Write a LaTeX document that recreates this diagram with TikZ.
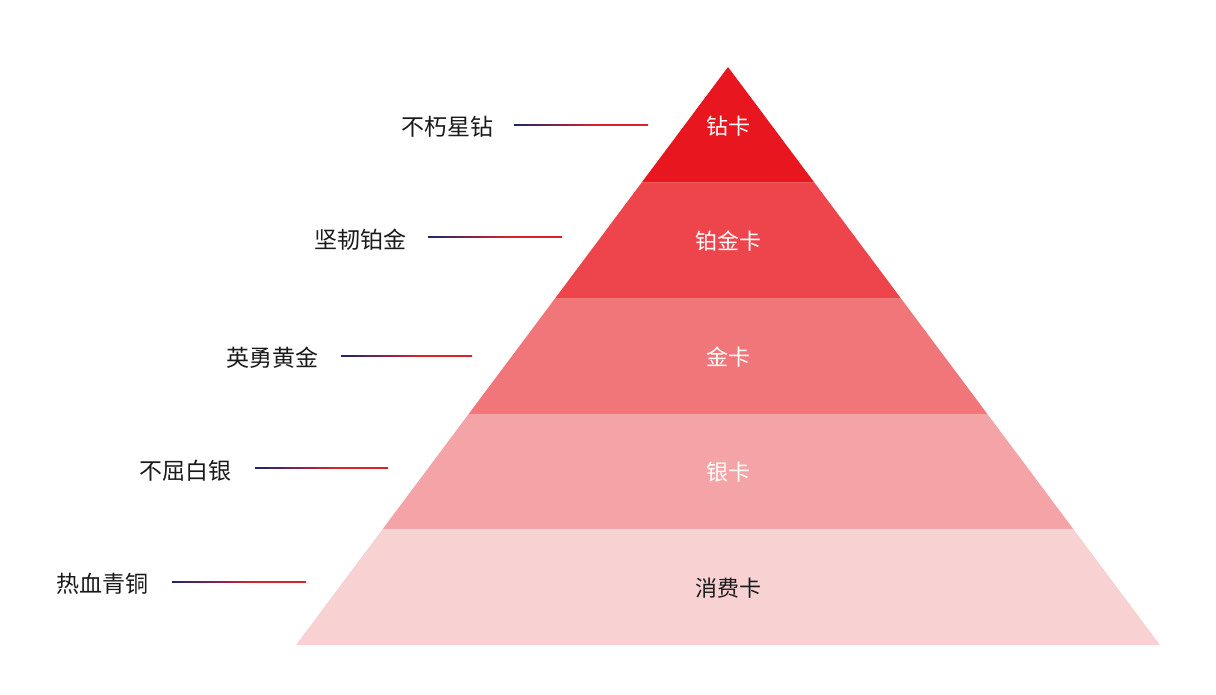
\documentclass[tikz,border=0pt]{standalone}
\usepackage{fontspec}
\setmainfont{Noto Sans CJK SC}
\usetikzlibrary{positioning, calc}
\definecolor{Ink}{HTML}{1A1A1A}
\definecolor{Navy}{HTML}{1C2472}
\definecolor{LineRed}{HTML}{D9232B}
\definecolor{TierA}{HTML}{E8161E}
\definecolor{TierB}{HTML}{EE444B}
\definecolor{TierC}{HTML}{F07679}
\definecolor{TierD}{HTML}{F4A4A6}
\definecolor{TierE}{HTML}{F8D1D3}
\pgfdeclarehorizontalshading{lineshade}{100bp}{color(0bp)=(Navy); color(25bp)=(Navy); color(55bp)=(LineRed); color(100bp)=(LineRed)}

\begin{document}
\begin{tikzpicture}[
  x=1pt, y=-1pt,
  tier/.style={draw=none},
  tiertext/.style={font=\fontsize{22}{24}\selectfont, text=white, inner sep=0pt},
  rank/.style={font=\fontsize{23}{25}\selectfont, text=Ink, inner sep=0pt, anchor=east},
  rule/.style={shading=lineshade}
]
\useasboundingbox[fill=white] (0,0) rectangle (1216,694);

\coordinate (apex) at (728,67);
\coordinate (bl) at (296,645);
\coordinate (br) at (1160,645);
\coordinate (l1) at ($(apex)!0.2!(bl)$);
\coordinate (r1) at ($(apex)!0.2!(br)$);
\coordinate (l2) at ($(apex)!0.4!(bl)$);
\coordinate (r2) at ($(apex)!0.4!(br)$);
\coordinate (l3) at ($(apex)!0.6!(bl)$);
\coordinate (r3) at ($(apex)!0.6!(br)$);
\coordinate (l4) at ($(apex)!0.8!(bl)$);
\coordinate (r4) at ($(apex)!0.8!(br)$);

\fill[tier, TierA] (apex) -- (r1) -- (l1) -- cycle;
\fill[tier, TierB] (l1) -- (r1) -- (r2) -- (l2) -- cycle;
\fill[tier, TierC] (l2) -- (r2) -- (r3) -- (l3) -- cycle;
\fill[tier, TierD] (l3) -- (r3) -- (r4) -- (l4) -- cycle;
\fill[tier, TierE] (l4) -- (r4) -- (br) -- (bl) -- cycle;

\node[tiertext] (diamond) at (728,126) {钻卡};
\node[tiertext] (platinum) at (728,241) {铂金卡};
\node[tiertext] (gold) at (728,357) {金卡};
\node[tiertext] (silver) at (728,472) {银卡};
\node[tiertext, text=Ink] (basic) at (728,588) {消费卡};

\coordinate (s1) at (514,125);
\coordinate (e1) at (648,125);
\coordinate (s2) at (428,237);
\coordinate (e2) at (562,237);
\coordinate (s3) at (341,356);
\coordinate (e3) at (472,356);
\coordinate (s4) at (255,468);
\coordinate (e4) at (388,468);
\coordinate (s5) at (172,582);
\coordinate (e5) at (306,582);

\node[rank] (star) at ([xshift=-20pt, yshift=-2pt]s1) {不朽星钻};
\node[rank] (tough) at ([xshift=-21pt, yshift=-3pt]s2) {坚韧铂金};
\node[rank] (brave) at ([xshift=-22pt, yshift=-2pt]s3) {英勇黄金};
\node[rank] (steady) at ([xshift=-23pt, yshift=-3pt]s4) {不屈白银};
\node[rank] (fiery) at ([xshift=-23pt, yshift=-2pt]s5) {热血青铜};

\shade[rule] ([yshift=0.8pt]s1) rectangle ([yshift=-0.8pt]e1);
\shade[rule] ([yshift=0.8pt]s2) rectangle ([yshift=-0.8pt]e2);
\shade[rule] ([yshift=0.8pt]s3) rectangle ([yshift=-0.8pt]e3);
\shade[rule] ([yshift=0.8pt]s4) rectangle ([yshift=-0.8pt]e4);
\shade[rule] ([yshift=0.8pt]s5) rectangle ([yshift=-0.8pt]e5);
\end{tikzpicture}
\end{document}
